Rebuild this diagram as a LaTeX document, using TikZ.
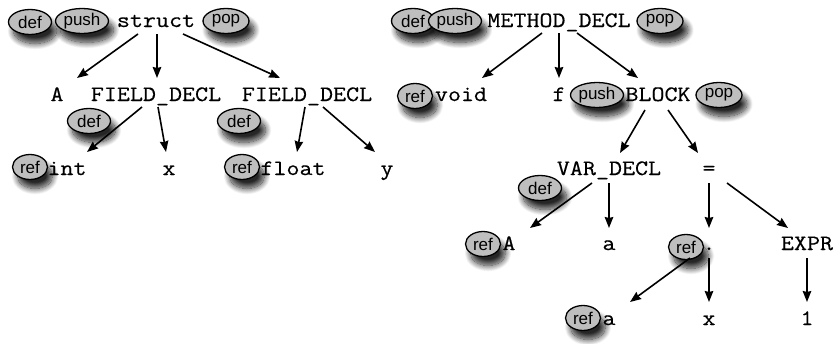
\documentclass[tikz,border=0pt]{standalone}
\usepackage{fontspec}
\setmainfont{Liberation Sans}
\newfontfamily\codefont[FakeStretch=1.15,FakeBold=0.4]{Latin Modern Mono}
\usetikzlibrary{shapes.geometric,arrows.meta,shadows.blur}
\definecolor{tagfill}{RGB}{190,190,190}
\tikzset{
  code/.style={font=\codefont\fontsize{22}{22}\selectfont, inner sep=0pt, anchor=base},
  tag/.style={ellipse, draw=black, line width=1.3pt, fill=tagfill, inner sep=0pt,
    minimum height=25pt, font=\fontsize{17}{17}\selectfont,
    blur shadow={shadow xshift=5pt, shadow yshift=-9pt, shadow blur radius=6pt, shadow blur steps=14, shadow opacity=85}},
  tdef/.style={tag, minimum width=43pt},
  tpush/.style={tag, minimum width=53pt},
  tpop/.style={tag, minimum width=46pt},
  tref/.style={tag, minimum width=35pt},
  arr/.style={-{Stealth[length=11pt,width=8.5pt,inset=1pt]}, line width=1.6pt}
}
\begin{document}
\begin{tikzpicture}[x=1pt,y=-1pt]
\useasboundingbox (0,0) rectangle (835,343);
% left tree
\node[tdef]  (def1)  at (30,22)  {def};
\node[tpush] (push1) at (82,21)  {push};
\node[code]  (struct) at (156,27) {struct};
\node[tpop]  (pop1)  at (226,21) {pop};
\node[code]  (A)     at (57,101)  {A};
\node[code]  (FD1)   at (156,101) {FIELD\_DECL};
\node[code]  (FD2)   at (307,101) {FIELD\_DECL};
\node[tdef]  (def2)  at (89,121) {def};
\node[tdef]  (def3)  at (239,121) {def};
\node[tref]  (ref1)  at (30,167) {ref};
\node[code]  (int)   at (67,175) {int};
\node[code]  (x)     at (169,175) {x};
\node[tref]  (ref2)  at (242,167) {ref};
\node[code]  (float) at (293,175) {float};
\node[code]  (y)     at (387,175) {y};
% right tree
\node[tdef]  (def4)  at (413,21) {def};
\node[tpush] (push2) at (455,21) {push};
\node[code]  (MD)    at (559,27) {METHOD\_DECL};
\node[tpop]  (pop2)  at (660,21) {pop};
\node[tref]  (ref3)  at (415,96) {ref};
\node[code]  (void)  at (461,101) {void};
\node[code]  (f)     at (559,101) {f};
\node[tpush] (push3) at (597,95) {push};
\node[code]  (BLOCK) at (658,101) {BLOCK};
\node[tpop]  (pop3)  at (719,95) {pop};
\node[code]  (VAR)   at (609,175) {VAR\_DECL};
\node[code]  (eq)    at (709,175) {=};
\node[tdef]  (def5)  at (540,188) {def};
\node[tref]  (ref4)  at (483,244) {ref};
\node[code]  (A2)    at (509,250) {A};
\node[code]  (a)     at (609,250) {a};
\node[tref]  (ref5)  at (686,247) {ref};
\node[code]  (dot)   at (709,250) {.};
\node[code]  (EXPR)  at (807,250) {EXPR};
\node[tref]  (ref6)  at (583,318) {ref};
\node[code]  (a2)    at (609,325) {a};
\node[code]  (x2)    at (709,325) {x};
\node[code]  (one)   at (807,325) {1};
% arrows left
\draw[arr] ([shift={(-18,7)}]struct.base) -- ([shift={(20,-23)}]A.base);
\draw[arr] ([shift={(1,7)}]struct.base) -- ([shift={(1,-23)}]FD1.base);
\draw[arr] ([shift={(27,7)}]struct.base) -- ([shift={(-27,-23)}]FD2.base);
\draw[arr] ([shift={(-14,6)}]FD1.base) -- ([shift={(20,-23)}]int.base);
\draw[arr] ([shift={(2,6)}]FD1.base) -- ([shift={(-3,-23)}]x.base);
\draw[arr] ([shift={(-2,6)}]FD2.base) -- ([shift={(4,-23)}]float.base);
\draw[arr] ([shift={(16,6)}]FD2.base) -- ([shift={(-12,-23)}]y.base);
% arrows right
\draw[arr] ([shift={(-17,6)}]MD.base) -- ([shift={(21,-23)}]void.base);
\draw[arr] ([shift={(0,6)}]MD.base) -- ([shift={(0,-23)}]f.base);
\draw[arr] ([shift={(18,6)}]MD.base) -- ([shift={(-20,-23)}]BLOCK.base);
\draw[arr] ([shift={(-13,9)}]BLOCK.base) -- ([shift={(11,-22)}]VAR.base);
\draw[arr] ([shift={(10,9)}]BLOCK.base) -- ([shift={(-11,-22)}]eq.base);
\draw[arr] ([shift={(-17,8)}]VAR.base) -- ([shift={(21,-22)}]A2.base);
\draw[arr] ([shift={(0,8)}]VAR.base) -- ([shift={(0,-22)}]a.base);
\draw[arr] ([shift={(0,8)}]eq.base) -- ([shift={(0,-22)}]dot.base);
\draw[arr] ([shift={(18,8)}]eq.base) -- ([shift={(-19,-22)}]EXPR.base);
\draw[arr] ([shift={(-19,8)}]dot.base) -- ([shift={(21,-23)}]a2.base);
\draw[arr] ([shift={(0,8)}]dot.base) -- ([shift={(0,-23)}]x2.base);
\draw[arr] ([shift={(0,8)}]EXPR.base) -- ([shift={(0,-23)}]one.base);
\end{tikzpicture}
\end{document}
